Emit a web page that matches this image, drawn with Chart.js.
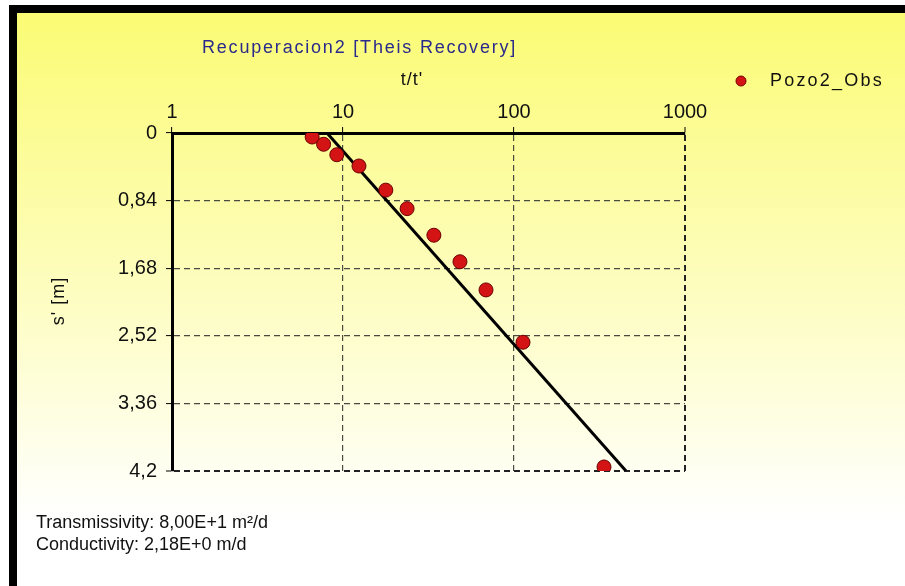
<!DOCTYPE html>
<html>
<head>
<meta charset="utf-8">
<script src="https://cdn.jsdelivr.net/npm/chart.js@4.4.1/dist/chart.umd.min.js"></script>
<style>
  html, body { margin: 0; padding: 0; background: #fff; }
  canvas { display: block; }
</style>
</head>
<body>
<canvas id="chart" width="905" height="586"></canvas>
<script>
// values
const xTicks = [1, 10, 100, 1000];
const yTicks = [0, 0.84, 1.68, 2.52, 3.36, 4.2];
const obsT = [6.6, 7.7, 9.2, 12.4, 17.8, 23.7, 34.0, 48.3, 68.6, 112.9, 336];
const obsS = [0.05, 0.14, 0.27, 0.41, 0.71, 0.94, 1.27, 1.60, 1.95, 2.60, 4.15];
const fitT = [8.06, 452];
const fitS = [0, 4.2];

const chartTitle = "Recuperacion2 [Theis Recovery]";
const xTitle = "t/t'";
const yTitle = "s' [m]";
const seriesName = "Pozo2_Obs";
const notes = ["Transmissivity: 8,00E+1 m²/d", "Conductivity: 2,18E+0 m/d"];

const FONT = '"Liberation Sans", Arial, sans-serif';

const textLayer = {
    id: "textLayer",
    beforeDraw(chart) {
        const ctx = chart.ctx;
        const w = chart.width, h = chart.height;
        ctx.save();
        ctx.fillStyle = "#ffffff";
        ctx.fillRect(0, 0, w, h);
        const g = ctx.createLinearGradient(0, 13, 0, 520);
        g.addColorStop(0, "#fbfb74");
        g.addColorStop(1, "#ffffff");
        ctx.fillStyle = g;
        ctx.fillRect(17, 13, w - 17, h - 13);
        // sunken frame: top and left edges only
        ctx.fillStyle = "#000000";
        ctx.fillRect(9, 5, w - 9, 8);
        ctx.fillRect(9, 5, 8, h - 5);
        ctx.restore();
    },
    afterDraw(chart) {
        const ctx = chart.ctx;
        ctx.save();
        ctx.textBaseline = "middle";

        ctx.font = "18px " + FONT;
        ctx.letterSpacing = "1.8px";
        ctx.fillStyle = "#2a2a8c";
        ctx.textAlign = "left";
        ctx.fillText(chartTitle, 202, 48);

        ctx.letterSpacing = "1px";
        ctx.fillStyle = "#111111";
        ctx.textAlign = "center";
        ctx.fillText(xTitle, 412, 80);

        ctx.save();
        ctx.translate(59, 301);
        ctx.rotate(-Math.PI / 2);
        ctx.fillText(yTitle, 0, 0);
        ctx.restore();

        // legend
        ctx.beginPath();
        ctx.arc(741, 81, 5, 0, Math.PI * 2);
        ctx.fillStyle = "#d41414";
        ctx.fill();
        ctx.strokeStyle = "#7a0000";
        ctx.lineWidth = 1;
        ctx.stroke();
        ctx.fillStyle = "#111111";
        ctx.textAlign = "left";
        ctx.letterSpacing = "2.2px";
        ctx.fillText(seriesName, 770, 81);

        ctx.letterSpacing = "0px";
        notes.forEach((t, i) => ctx.fillText(t, 36, 523 + i * 22));
        ctx.restore();
    }
};

const gridColor = c => {
    const n = c.scale.ticks.length;
    if (c.index === 0) return "rgba(0,0,0,0)";
    return c.index === n - 1 ? "#222222" : "#4a4a40";
};
const gridWidth = c => (c.index === c.scale.ticks.length - 1 ? 2 : 1.2);

new Chart(document.getElementById("chart"), {
    type: "scatter",
    data: {
        datasets: [{
            label: seriesName,
            data: obsT.map((t, i) => ({ x: t, y: obsS[i] })),
            backgroundColor: "#d41414",
            borderColor: "#6a0000",
            borderWidth: 1,
            pointRadius: 7,
            order: 1
        }, {
            label: "fit",
            type: "line",
            data: fitT.map((t, i) => ({ x: t, y: fitS[i] })),
            borderColor: "#000000",
            borderWidth: 3,
            pointRadius: 0,
            fill: false,
            order: 2
        }]
    },
    options: {
        responsive: false,
        animation: false,
        layout: { padding: { top: 60, left: 20, right: 220, bottom: 115 } },
        plugins: { legend: { display: false }, tooltip: { enabled: false } },
        scales: {
            x: {
                type: "logarithmic",
                position: "top",
                min: 1,
                max: 1000,
                afterBuildTicks: s => { s.ticks = xTicks.map(v => ({ value: v })); },
                afterFit: s => { s.height = 73; },
                ticks: {
                    callback: v => String(v),
                    font: { family: FONT, size: 20 },
                    color: "#111111",
                    padding: 3,
                    maxRotation: 0
                },
                grid: {
                    color: gridColor,
                    lineWidth: gridWidth,
                    tickLength: 6,
                    tickColor: "#000000",
                    tickWidth: 1
                },
                border: { display: true, color: "#000000", width: 3, dash: [6, 4] }
            },
            y: {
                type: "linear",
                reverse: true,
                min: 0,
                max: 4.2,
                afterBuildTicks: s => { s.ticks = yTicks.map(v => ({ value: v })); },
                afterFit: s => { s.width = 152; },
                ticks: {
                    callback: v => String(v).replace(".", ","),
                    font: { family: FONT, size: 20 },
                    color: "#111111",
                    padding: 9
                },
                grid: {
                    color: gridColor,
                    lineWidth: gridWidth,
                    tickLength: 6,
                    tickColor: "#000000",
                    tickWidth: 1
                },
                border: { display: true, color: "#000000", width: 3, dash: [6, 4] }
            }
        }
    },
    plugins: [textLayer]
});
</script>
</body>
</html>
